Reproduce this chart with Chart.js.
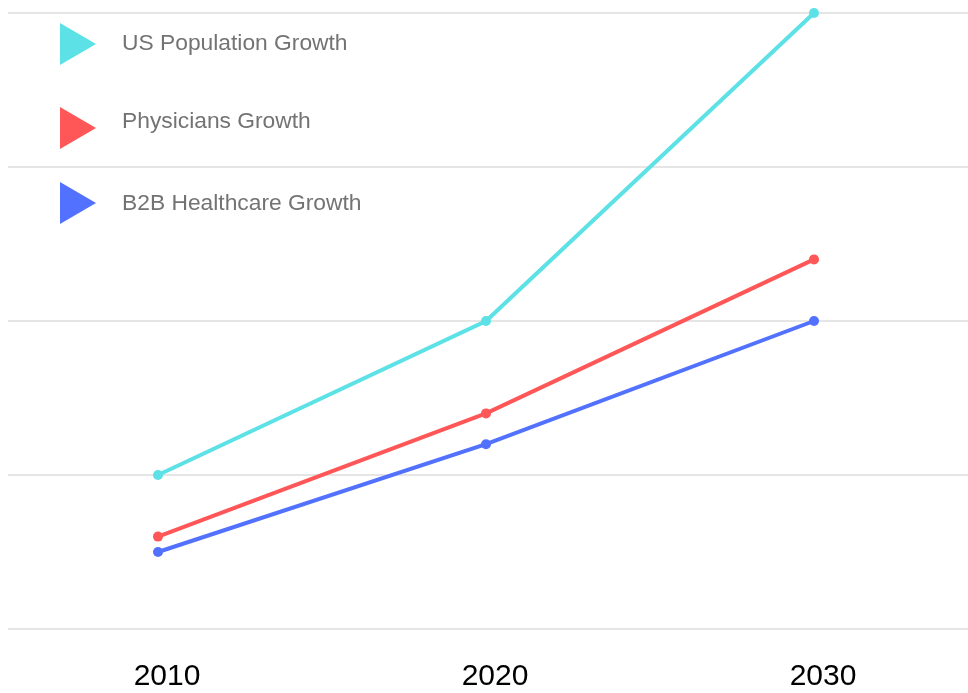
<!DOCTYPE html>
<html>
<head>
<meta charset="utf-8">
<script src="https://cdn.jsdelivr.net/npm/chart.js@4.4.1/dist/chart.umd.min.js"></script>
<style>
  html, body { margin: 0; padding: 0; background: #ffffff; }
  #wrap { position: relative; width: 968px; height: 693px; }
  #chart { position: absolute; left: 0; top: 0; }
  .leg-tri { position: absolute; width: 0; height: 0;
    border-top: 21px solid transparent; border-bottom: 21px solid transparent; border-left: 36px solid; }
  .leg-txt { position: absolute; font-family: "Liberation Sans", Arial, sans-serif; font-size: 22.8px;
    line-height: 1; color: #737373; white-space: nowrap; }
</style>
</head>
<body>
<div id="wrap">
  <canvas id="chart" width="968" height="693"></canvas>
  <div id="legend"></div>
</div>
<script>
const years = [2010, 2020, 2030];
const seriesNames = ["US Population Growth", "Physicians Growth", "B2B Healthcare Growth"];
const usPopulation = [5, 10, 20];
const physicians = [3, 7, 12];
const b2bHealthcare = [2.5, 6, 10];
const seriesColors = ["#5ce1e6", "#ff5757", "#5271ff"];

const seriesValues = [usPopulation, physicians, b2bHealthcare];

// HTML legend
const legendLayout = [
  { triTop: 23, txtTop: 31 },
  { triTop: 107, txtTop: 109 },
  { triTop: 182, txtTop: 190.5 }
];
const legend = document.getElementById('legend');
seriesNames.forEach((name, i) => {
  const tri = document.createElement('div');
  tri.className = 'leg-tri';
  tri.style.left = '60px';
  tri.style.top = legendLayout[i].triTop + 'px';
  tri.style.borderLeftColor = seriesColors[i];
  legend.appendChild(tri);
  const t = document.createElement('div');
  t.className = 'leg-txt';
  t.style.left = '122px';
  t.style.top = legendLayout[i].txtTop + 'px';
  t.textContent = name;
  legend.appendChild(t);
});

const datasets = seriesValues.map((vals, i) => ({
  label: seriesNames[i],
  data: years.map((x, j) => ({ x: x, y: vals[j] })),
  borderColor: seriesColors[i],
  backgroundColor: seriesColors[i],
  borderWidth: 4,
  pointRadius: 5,
  pointHoverRadius: 5,
  pointBorderWidth: 0,
  tension: 0,
  fill: false,
  clip: false
}));

new Chart(document.getElementById('chart'), {
  type: 'line',
  data: { datasets: datasets },
  options: {
    responsive: false,
    animation: false,
    layout: { autoPadding: false, padding: { left: 8, top: 13, right: 0, bottom: 0 } },
    plugins: { legend: { display: false }, tooltip: { enabled: false } },
    scales: {
      x: {
        type: 'linear',
        min: 2005.427,
        max: 2034.695,
        afterBuildTicks: (s) => { s.ticks = years.map(v => ({ value: v })); },
        afterFit: (s) => { s.height = 64; },
        grid: { display: false, drawTicks: false },
        border: { display: false },
        ticks: {
          padding: 30,
          labelOffset: 9,
          color: '#000000',
          font: { family: '"Liberation Sans", Arial, sans-serif', size: 30 },
          callback: (v) => String(v)
        }
      },
      y: {
        min: 0,
        max: 20,
        afterFit: (s) => { s.width = 0; },
        ticks: { display: false, stepSize: 5 },
        grid: { color: '#e5e5e5', lineWidth: 2, drawTicks: false },
        border: { display: false }
      }
    }
  }
});
</script>
</body>
</html>
